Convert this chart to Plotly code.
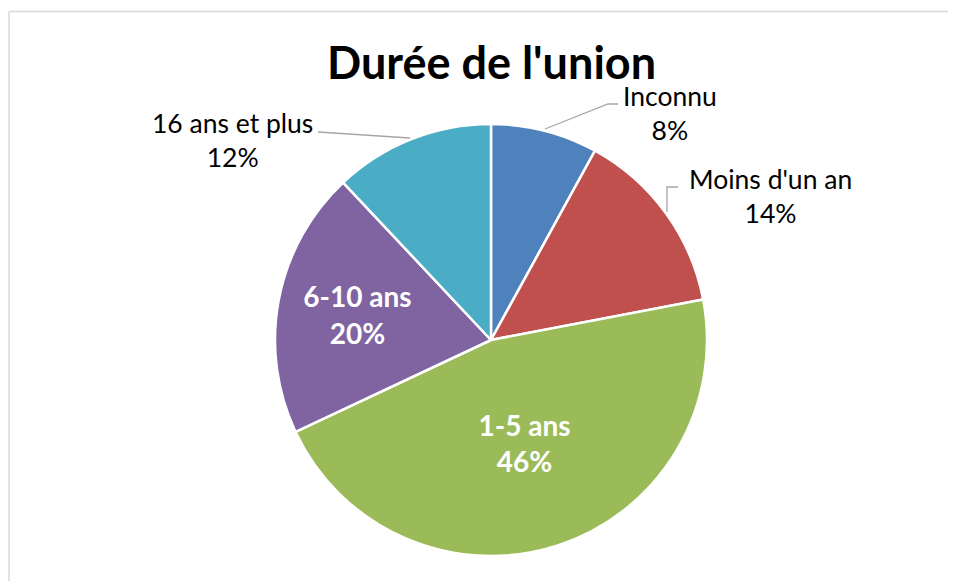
import plotly.graph_objects as go

# Data
categories = ["Inconnu", "Moins d'un an", "1-5 ans", "6-10 ans", "16 ans et plus"]
values = [8, 14, 46, 20, 12]
colors = ["#4F81BD", "#C0504D", "#9BBB59", "#8064A2", "#4BACC6"]
text_pos = ["none", "none", "inside", "inside", "none"]

OFF = 8  # page body margin
W, H = 956 - OFF, 581 - OFF
FONT = "Lato, Carlito, Calibri, sans-serif"


def px(x, y):
    # screen pixel -> paper coords
    return (x - OFF) / W, 1 - (y - OFF) / H


cx0, cy1 = px(275, 124)
cx1, cy0 = px(707, 556)

fig = go.Figure(go.Pie(
    labels=categories,
    values=values,
    sort=False,
    direction="clockwise",
    rotation=0,
    marker=dict(colors=colors, line=dict(color="white", width=2.5)),
    texttemplate=[("%{label}<br>%{percent:.0%}" if p == "inside" else "") for p in text_pos],
    textposition=["inside" if p == "inside" else "none" for p in text_pos],
    insidetextorientation="horizontal",
    insidetextfont=dict(family=FONT, size=28, color="white", weight="bold"),
    hoverinfo="label+percent",
    showlegend=False,
    domain=dict(x=[cx0, cx1], y=[cy0, cy1]),
))

# outside labels (Excel-style, with leader lines)
outside = {
    "Inconnu": (670, 113),
    "Moins d'un an": (770, 196),
    "16 ans et plus": (232, 140),
}
for name, (x, y) in outside.items():
    v = values[categories.index(name)]
    xp, yp = px(x, y)
    fig.add_annotation(x=xp, y=yp, xref="paper", yref="paper",
                       xanchor="center", yanchor="middle",
                       text=f"{name}<br>{v}%", showarrow=False,
                       font=dict(family=FONT, size=26.5, color="black"),
                       align="center")

leaders = [
    [(618, 104), (608, 104), (545, 129)],
    [(678, 187), (667, 187), (667, 212)],
    [(318, 132), (410, 138)],
]
for pts in leaders:
    d = "M " + " L ".join(f"{px(a, b)[0]},{px(a, b)[1]}" for a, b in pts)
    fig.add_shape(type="path", path=d, xref="paper", yref="paper",
                  line=dict(color="#A6A6A6", width=1.3))

# chart frame: only top and left edges are visible
_, fy1 = px(6.5, 11.5)
fx0 = 1 / W
fig.add_shape(type="line", xref="paper", yref="paper",
              x0=fx0, x1=1, y0=fy1, y1=fy1,
              line=dict(color="#D9D9D9", width=1.5))
fig.add_shape(type="line", xref="paper", yref="paper",
              x0=fx0, x1=fx0, y0=0, y1=fy1,
              line=dict(color="#D9D9D9", width=1.5))

tx, ty = px(491, 62)
fig.add_annotation(x=tx, y=ty, xref="paper", yref="paper",
                   xanchor="center", yanchor="middle",
                   text="<b>Durée de l'union</b>", showarrow=False,
                   font=dict(family=FONT, size=45, color="black"))

fig.update_layout(
    width=W, height=H,
    margin=dict(l=0, r=0, t=0, b=0),
    paper_bgcolor="white",
    plot_bgcolor="white",
    font=dict(family=FONT),
)

fig.write_html("out.html")
